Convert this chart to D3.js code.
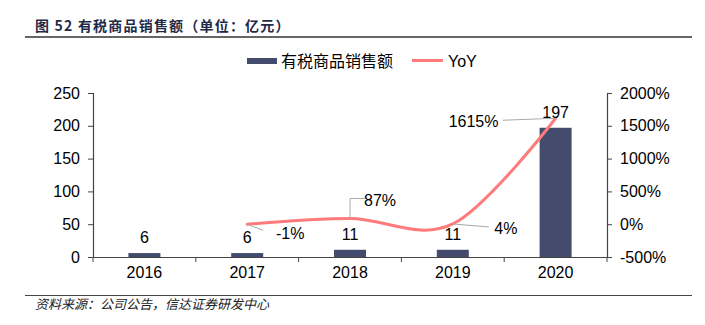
<!DOCTYPE html>
<html><head><meta charset="utf-8">
<script src="https://cdn.jsdelivr.net/npm/d3@7"></script>
<style>body{margin:0;background:#fff;} svg{display:block;}</style>
</head><body><div id="chart"></div>
<script>
const categories = ["2016","2017","2018","2019","2020"];
const salesValues = [6, 6, 11, 11, 197];
const yoyValues = [null, -1, 87, 4, 1615];
const leftTicks = [0, 50, 100, 150, 200, 250];
const rightTicks = [-500, 0, 500, 1000, 1500, 2000];
const seriesNames = ["有税商品销售额", "YoY"];
const titleText = "图 52 有税商品销售额（单位：亿元）";
const sourceText = "资料来源：公司公告，信达证券研发中心";

const W = 705, H = 325;
const m = {left: 93, right: 98, top: 93, bottom: 68};
const svg = d3.select("#chart").append("svg").attr("width", W).attr("height", H);
const font = "'Liberation Sans', Arial, 'Noto Sans CJK SC', sans-serif";
const cjk = "'Noto Sans CJK SC', sans-serif";

const x = d3.scaleBand().domain(categories).range([m.left, W - m.right]).padding(0);
const yL = d3.scaleLinear().domain([0, 250]).range([H - m.bottom, m.top]);
const yR = d3.scaleLinear().domain([-500, 2000]).range([H - m.bottom, m.top]);

// title
svg.append("text").attr("x", 35).attr("y", 31).text(titleText)
  .attr("font-family", cjk).attr("font-weight", "bold").attr("font-size", 14)
  .attr("letter-spacing", 1.2).attr("fill", "#1f2a48");
svg.append("line").attr("x1", 25).attr("x2", 692).attr("y1", 37).attr("y2", 37).attr("stroke", "#333").attr("stroke-width", 1.5);
// footer
svg.append("line").attr("x1", 25).attr("x2", 692).attr("y1", 295.5).attr("y2", 295.5).attr("stroke", "#444").attr("stroke-width", 1);
svg.append("text").attr("x", 35).attr("y", 309).text(sourceText)
  .attr("font-family", cjk).attr("font-style", "italic").attr("font-size", 13).attr("fill", "#222");

// bars
const bw = 32;
svg.append("g").selectAll("rect").data(categories).join("rect")
  .attr("x", d => x(d) + x.bandwidth()/2 - bw/2)
  .attr("width", bw)
  .attr("y", (d,i) => yL(salesValues[i]))
  .attr("height", (d,i) => yL(0) - yL(salesValues[i]))
  .attr("fill", "#434c6c");

// axes
const axisColor = "#444";
const gL = svg.append("g").attr("transform", `translate(${m.left},0)`)
  .call(d3.axisLeft(yL).tickValues(leftTicks).tickSize(5).tickPadding(8));
const gR = svg.append("g").attr("transform", `translate(${W - m.right},0)`)
  .call(d3.axisRight(yR).tickValues(rightTicks).tickSize(5).tickPadding(8).tickFormat(d => d + "%"));
const gX = svg.append("g").attr("transform", `translate(0,${H - m.bottom})`)
  .call(d3.axisBottom(x).tickSize(0).tickPadding(10));
// boundary ticks
const bounds = categories.map(c => x(c)).concat([W - m.right]);
svg.append("g").selectAll("line").data(bounds).join("line")
  .attr("x1", d => d).attr("x2", d => d)
  .attr("y1", H - m.bottom).attr("y2", H - m.bottom + 5)
  .attr("stroke", axisColor);
[gL, gR, gX].forEach(g => {
  g.selectAll("path").attr("stroke", axisColor).attr("stroke-width", 1.2);
  g.selectAll("line").attr("stroke", axisColor);
  g.selectAll("text").attr("font-family", font).attr("font-size", 16).attr("fill", "#000");
});
gX.select(".domain").attr("d", `M${m.left},0.5H${W - m.right}`);

// line
const pts = categories.map((c,i) => ({c, v: yoyValues[i]})).filter(d => d.v !== null);
const line = d3.line().x(d => x(d.c) + x.bandwidth()/2).y(d => yR(d.v)).curve(d3.curveCatmullRom.alpha(0));
svg.append("path").datum(pts).attr("d", line).attr("fill", "none")
  .attr("stroke", "#ff7b7b").attr("stroke-width", 3).attr("stroke-linecap", "round");

// bar labels
svg.append("g").selectAll("text").data(categories).join("text")
  .attr("x", d => x(d) + x.bandwidth()/2)
  .attr("y", (d,i) => yL(salesValues[i]) - 10)
  .attr("text-anchor", "middle").text((d,i) => salesValues[i])
  .attr("font-family", font).attr("font-size", 16).attr("fill", "#000");

// yoy labels with leader lines: offsets relative to point
const yoyLabelOffsets = [null,
  {dx: 43, dy: 10, lx: [[0,0],[16,6]]},
  {dx: 30, dy: -17, lx: [[0,0],[0,-20],[15,-20]]},
  {dx: 53, dy: 5, lx: [[0,0],[36,3]]},
  {dx: -82, dy: 4, lx: [[0,0],[-53,2]]}];
pts.forEach(p => {
  const i = categories.indexOf(p.c);
  const o = yoyLabelOffsets[i];
  const px = x(p.c) + x.bandwidth()/2, py = yR(p.v);
  svg.append("path").attr("d", d3.line()(o.lx.map(q => [px + q[0], py + q[1]])))
    .attr("fill", "none").attr("stroke", "#aaa").attr("stroke-width", 1);
  svg.append("text").attr("x", px + o.dx).attr("y", py + o.dy + 5)
    .attr("text-anchor", "middle").text(p.v + "%")
    .attr("font-family", font).attr("font-size", 16).attr("fill", "#000");
});

// legend
const lg = svg.append("g");
lg.append("rect").attr("x", 247).attr("y", 58).attr("width", 30).attr("height", 6).attr("fill", "#434c6c");
lg.append("text").attr("x", 281).attr("y", 67).text(seriesNames[0])
  .attr("font-family", cjk).attr("font-size", 16).attr("fill", "#000");
lg.append("line").attr("x1", 412).attr("x2", 443).attr("y1", 60.5).attr("y2", 60.5)
  .attr("stroke", "#ff7b7b").attr("stroke-width", 3);
lg.append("text").attr("x", 448).attr("y", 67).text(seriesNames[1])
  .attr("font-family", font).attr("font-size", 16).attr("fill", "#000");
</script></body></html>
